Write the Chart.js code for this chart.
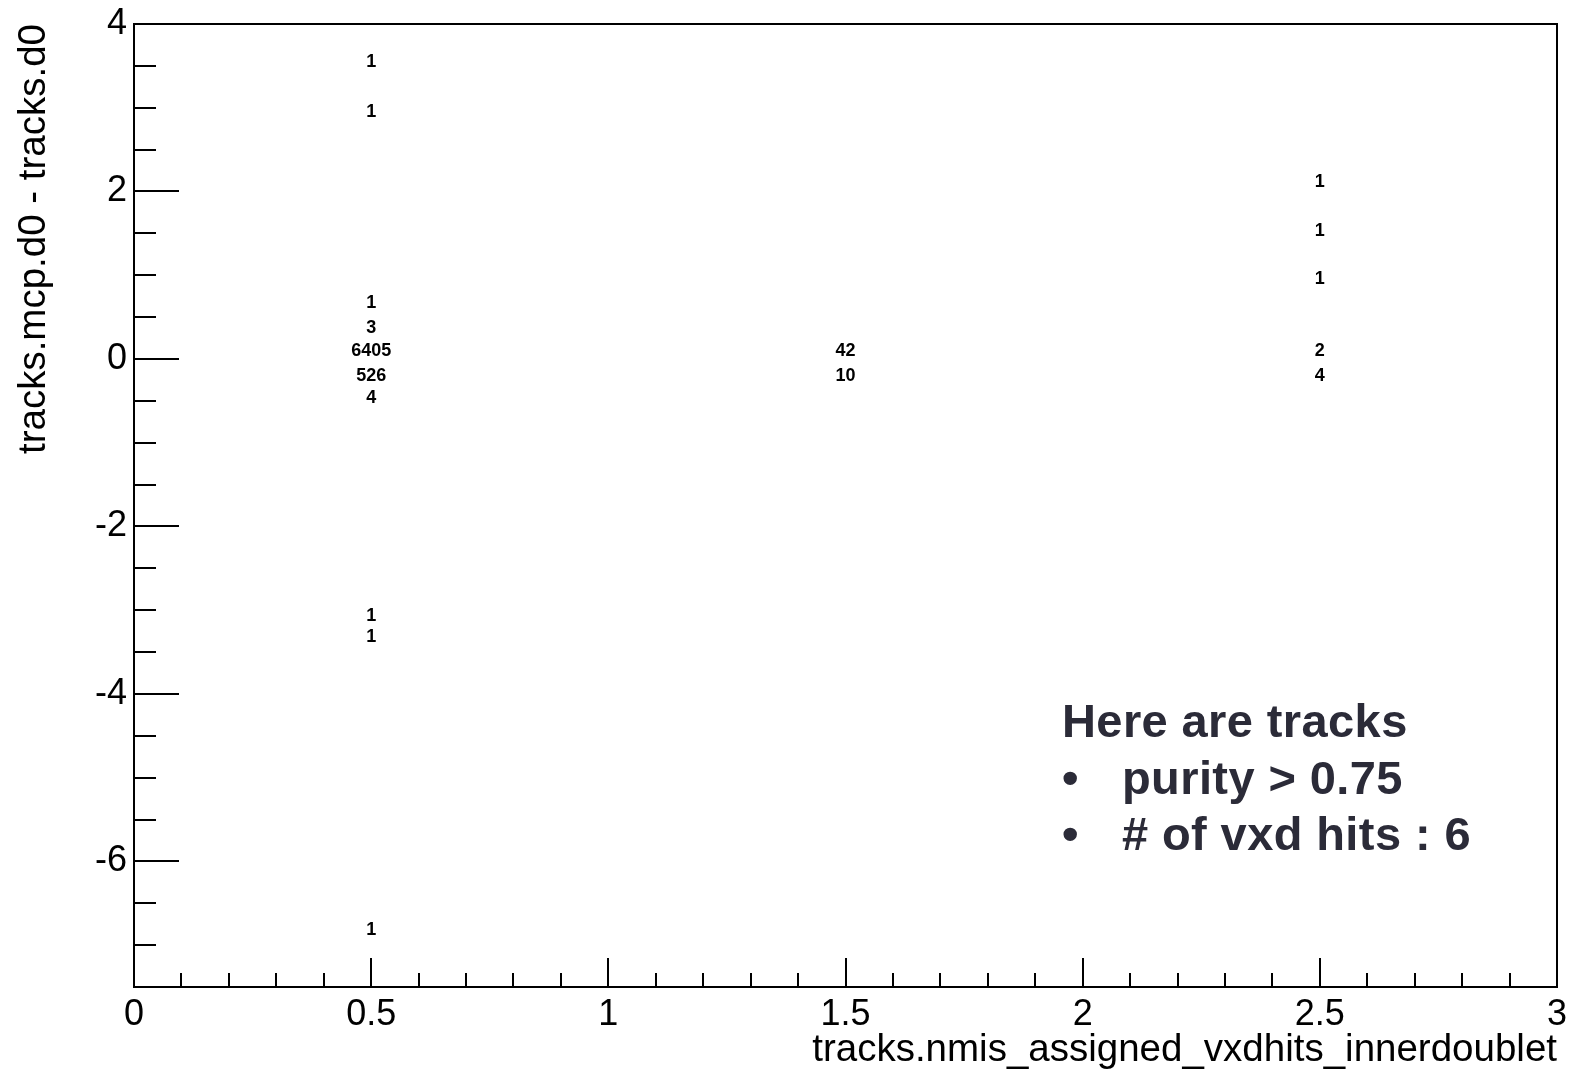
<!DOCTYPE html>
<html>
<head>
<meta charset="utf-8">
<title>tracks.mcp.d0 - tracks.d0</title>
<script src="https://cdn.jsdelivr.net/npm/chart.js@4.4.1/dist/chart.umd.min.js"></script>
<style>
  html, body { margin: 0; padding: 0; background: #fff; }
  #wrap { position: relative; width: 1570px; height: 1073px; }
  #note {
    position: absolute; left: 1062px; top: 693px;
    font: bold 47px "Liberation Sans", Arial, sans-serif;
    letter-spacing: 0.4px;
    color: #2b2b38; line-height: 56.5px; white-space: nowrap;
  }
  #note .b { display: inline-block; width: 60px; }
</style>
</head>
<body>
<div id="wrap">
  <canvas id="chart"></canvas>
  <div id="note">
    <div>Here are tracks</div>
    <div><span class="b">•</span>purity &gt; 0.75</div>
    <div><span class="b">•</span># of vxd hits : 6</div>
  </div>
</div>
<script>
  // x bins (tracks.nmis_assigned_vxdhits_innerdoublet)
  const xBins = [0.5, 1.5, 2.5];

  // cells at x = 0.5
  const yAt05 = [3.55, 2.95, 0.67, 0.37, 0.1, -0.2, -0.47, -3.07, -3.32, -6.82];
  const nAt05 = [1, 1, 1, 3, 6405, 526, 4, 1, 1, 1];

  // cells at x = 1.5
  const yAt15 = [0.1, -0.2];
  const nAt15 = [42, 10];

  // cells at x = 2.5
  const yAt25 = [2.11, 1.53, 0.95, 0.1, -0.2];
  const nAt25 = [1, 1, 1, 2, 4];

  const yTicks = [-6, -4, -2, 0, 2, 4];
  const xTicks = [0, 0.5, 1, 1.5, 2, 2.5, 3];

  const columns = [[yAt05, nAt05], [yAt15, nAt15], [yAt25, nAt25]];

  let toPoints = (x, ys, ns) => ys.map((y, i) => ({ x, y, n: ns[i] }));

  /*
    ============ ROOT-like frame, inner ticks, cell text ============
  */
  let rootStyle = {
    id: 'rootStyle',
    afterDatasetsDraw(chart) {
      let { ctx, chartArea: a, scales: { x, y } } = chart;
      ctx.save();
      ctx.strokeStyle = '#000';
      ctx.lineWidth = 2;
      ctx.strokeRect(a.left, a.top, a.right - a.left, a.bottom - a.top);

      ctx.beginPath();
      for (let v = -7.5; v <= 4.001; v += 0.5) {
        let py = Math.round(y.getPixelForValue(v));
        if (py >= a.bottom - 2 || py <= a.top + 1) continue;
        let major = Math.abs(v % 2) < 1e-6;
        ctx.moveTo(a.left, py);
        ctx.lineTo(a.left + (major ? 45 : 22), py);
      }
      for (let v = 0; v <= 3.001; v += 0.1) {
        let px = Math.round(x.getPixelForValue(v));
        if (px <= a.left + 1 || px >= a.right - 1) continue;
        let major = Math.abs(Math.round(v * 10) % 5) === 0;
        ctx.moveTo(px, a.bottom);
        ctx.lineTo(px, a.bottom - (major ? 29 : 14));
      }
      ctx.stroke();

      ctx.fillStyle = '#000';
      ctx.font = 'bold 18px "Liberation Sans", Arial, sans-serif';
      ctx.textAlign = 'center';
      ctx.textBaseline = 'middle';
      chart.data.datasets.forEach((ds, i) => {
        chart.getDatasetMeta(i).data.forEach((el, j) => {
          ctx.fillText(String(ds.data[j].n), el.x, el.y);
        });
      });
      ctx.restore();
    }
  };

  let tickFont = { family: '"Liberation Sans", Arial, sans-serif', size: 36 };
  let titleFont = { family: '"Liberation Sans", Arial, sans-serif', size: 38.5 };

  new Chart(document.getElementById('chart'), {
    type: 'scatter',
    data: {
      datasets: xBins.map((x, i) => ({
        label: 'x = ' + x,
        data: toPoints(x, columns[i][0], columns[i][1]),
        pointRadius: 0,
        pointHoverRadius: 0
      }))
    },
    options: {
      responsive: true,
      maintainAspectRatio: false,
      animation: false,
      events: [],
      layout: { padding: { top: 24, right: 13, left: 0, bottom: 0 } },
      plugins: { legend: { display: false }, tooltip: { enabled: false } },
      scales: {
        x: {
          type: 'linear',
          min: 0, max: 3,
          afterFit: s => { s.height = 86; s.paddingLeft = 0; s.paddingRight = 0; },
          afterBuildTicks: s => { s.ticks = xTicks.map(v => ({ value: v })); },
          grid: { display: false, drawTicks: false },
          border: { display: false },
          ticks: {
            color: '#000', font: tickFont, padding: 6, maxRotation: 0, autoSkip: false,
            callback: v => String(v)
          },
          title: {
            display: true, text: 'tracks.nmis_assigned_vxdhits_innerdoublet',
            align: 'end', color: '#000', font: titleFont, padding: { top: 0, bottom: 0 }
          }
        },
        y: {
          type: 'linear',
          min: -7.5, max: 4,
          afterFit: s => { s.width = 134; s.paddingTop = 0; s.paddingBottom = 0; },
          afterBuildTicks: s => { s.ticks = yTicks.map(v => ({ value: v })); },
          grid: { display: false, drawTicks: false },
          border: { display: false },
          ticks: { color: '#000', font: tickFont, padding: 7, callback: v => String(v) },
          title: {
            display: true, text: 'tracks.mcp.d0 - tracks.d0',
            align: 'end', color: '#000', font: titleFont, padding: { top: 11, bottom: 0 }
          }
        }
      }
    },
    plugins: [rootStyle]
  });
</script>
</body>
</html>
